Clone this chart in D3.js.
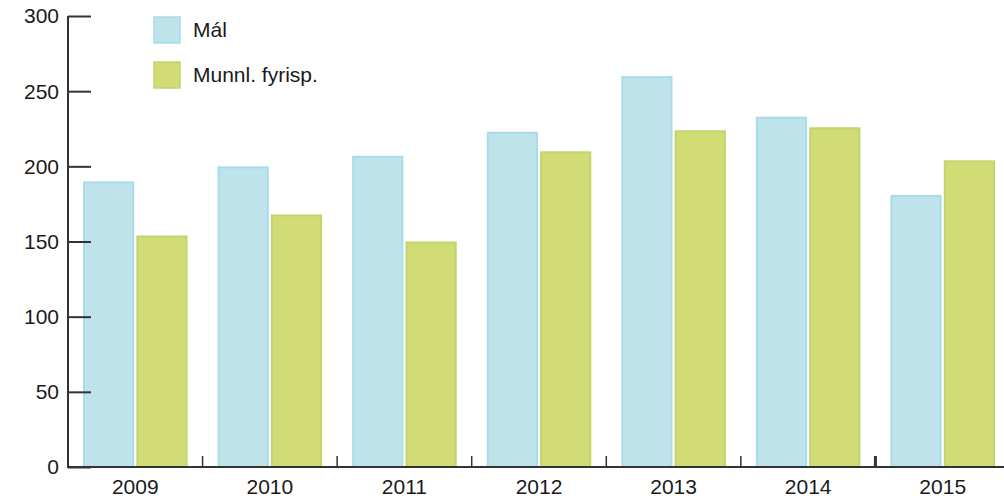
<!DOCTYPE html>
<html>
<head>
<meta charset="utf-8">
<script src="https://cdn.jsdelivr.net/npm/d3@7"></script>
<style>
  body { margin: 0; background: #fff; }
  text { font-family: "Liberation Sans", Arial, sans-serif; fill: #1a1a1a; }
</style>
</head>
<body>
<div class="chart"></div>
<script>
var years = ['2009', '2010', '2011', '2012', '2013', '2014', '2015'];
var seriesNames = ['Mál', 'Munnl. fyrisp.'];
var malValues = [190, 200, 207, 223, 260, 233, 181];
var munnlValues = [154, 168, 150, 210, 224, 226, 204];
var yTicks = [0, 50, 100, 150, 200, 250, 300];

var fills = ['#bee3ea', '#d1dc77'];
var strokes = ['#a9dbe8', '#c2d56a'];

var width = 1004, height = 498;
var svg = d3.select('.chart').append('svg')
	.attr('width', width)
	.attr('height', height);

var x = d3.scaleBand().domain(years).range([68, 1010]);
var xInner = d3.scaleBand().domain(seriesNames).range([15, x.bandwidth() - 15]).paddingInner(0.04);
var y = d3.scaleLinear().domain([0, 300]).range([467, 16]);

var rows = years.map(function(yr, i) {
	return {year: yr, values: [malValues[i], munnlValues[i]]};
});

// bars
var groups = svg.selectAll('g.year')
	.data(rows)
	.enter().append('g')
	.attr('class', 'year')
	.attr('transform', function(d) { return 'translate(' + x(d.year) + ',0)'; });

groups.selectAll('rect')
	.data(function(d) { return d.values.map(function(v, k) { return {k: k, v: v}; }); })
	.enter().append('rect')
	.attr('x', function(d) { return xInner(seriesNames[d.k]) + 1; })
	.attr('y', function(d) { return y(d.v) + 1; })
	.attr('width', xInner.bandwidth() - 2)
	.attr('height', function(d) { return y(0) - y(d.v) - 1; })
	.attr('fill', function(d) { return fills[d.k]; })
	.attr('stroke', function(d) { return strokes[d.k]; })
	.attr('stroke-width', 2);

// y axis
var yAxis = svg.append('g')
	.attr('transform', 'translate(68,0)')
	.call(d3.axisRight(y).tickValues(yTicks).tickSize(23).tickFormat(''));
yAxis.select('.domain').attr('d', 'M0,' + y(300) + 'V' + y(0)).attr('stroke', '#333').attr('stroke-width', 2);
yAxis.selectAll('.tick line').attr('stroke', '#333').attr('stroke-width', 2);

svg.selectAll('text.ylab')
	.data(yTicks)
	.enter().append('text')
	.attr('class', 'ylab')
	.attr('x', 59)
	.attr('y', function(d) { return y(d); })
	.attr('dy', '0.35em')
	.attr('text-anchor', 'end')
	.attr('font-size', 21)
	.text(function(d) { return d; });

// x axis
svg.append('line')
	.attr('x1', 67).attr('x2', width)
	.attr('y1', y(0)).attr('y2', y(0))
	.attr('stroke', '#333').attr('stroke-width', 2);

svg.selectAll('line.xtick')
	.data(years.slice(1))
	.enter().append('line')
	.attr('class', 'xtick')
	.attr('x1', function(d) { return x(d); })
	.attr('x2', function(d) { return x(d); })
	.attr('y1', y(0)).attr('y2', y(0) - 11)
	.attr('stroke', '#333').attr('stroke-width', function(d, i) { return i == 5 ? 3 : 1.5; });

svg.selectAll('text.xlab')
	.data(years)
	.enter().append('text')
	.attr('class', 'xlab')
	.attr('x', function(d) { return x(d) + x.bandwidth() / 2; })
	.attr('y', 494)
	.attr('text-anchor', 'middle')
	.attr('font-size', 21)
	.text(function(d) { return d; });

// legend
var legend = svg.selectAll('g.legend')
	.data(seriesNames)
	.enter().append('g')
	.attr('class', 'legend')
	.attr('transform', function(d, i) { return 'translate(154,' + (17 + i * 45) + ')'; });

legend.append('rect')
	.attr('width', 26).attr('height', 26)
	.attr('fill', function(d, i) { return fills[i]; })
	.attr('stroke', function(d, i) { return strokes[i]; })
	.attr('stroke-width', 1.5);

legend.append('text')
	.attr('x', 39)
	.attr('y', 13)
	.attr('dy', '0.35em')
	.attr('font-size', 21)
	.text(function(d) { return d; });
</script>
</body>
</html>
